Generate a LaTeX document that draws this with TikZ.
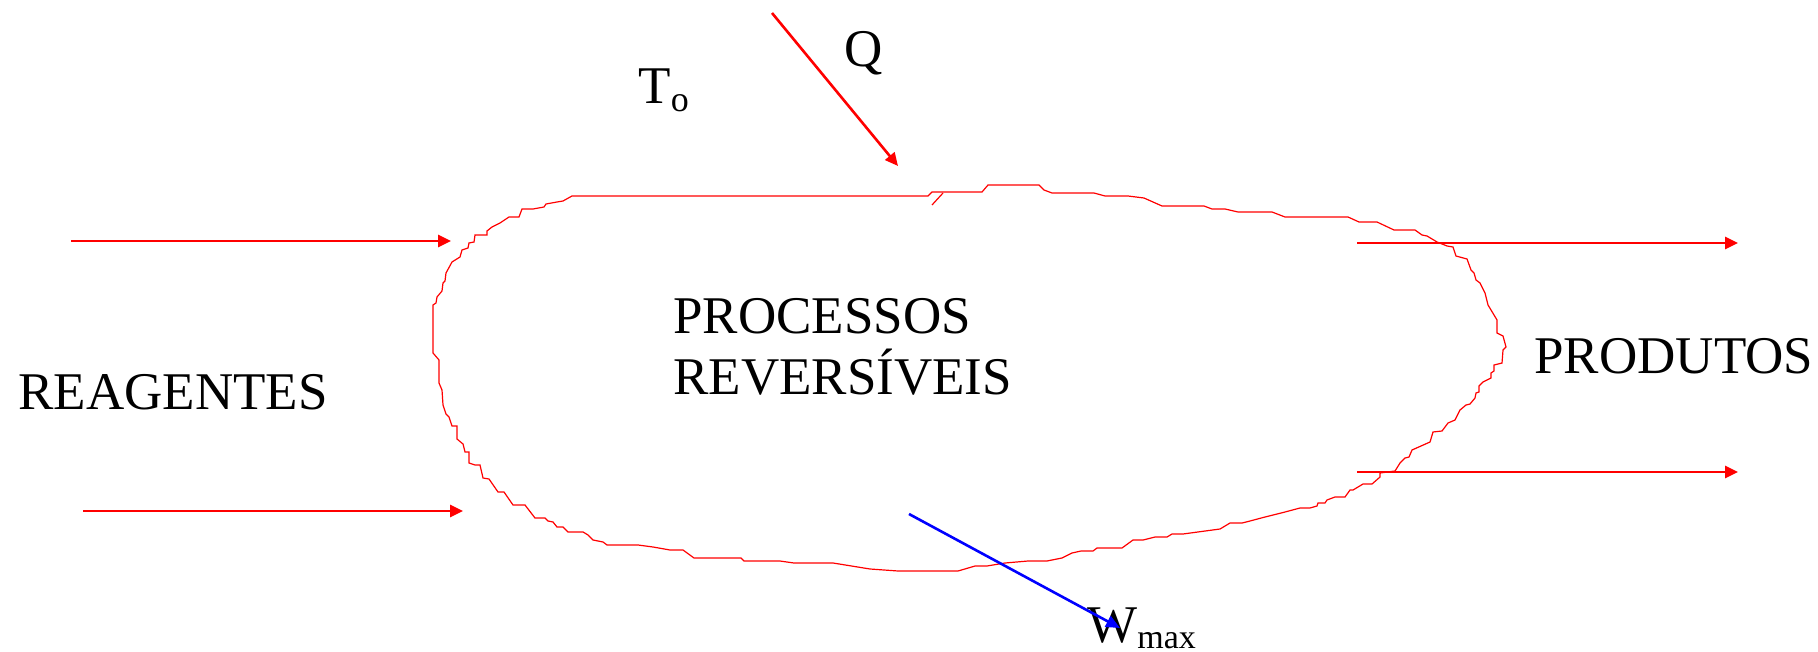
\documentclass[tikz,border=0pt]{standalone}
\usepackage{fontspec}
\setmainfont{Liberation Serif}
\usepackage{tikz}
\usetikzlibrary{arrows.meta, positioning}
\tikzstyle{txt} = [font=\fontsize{26.5}{32}\selectfont, inner sep=0pt, anchor=base west]
\tikzstyle{flow} = [red, line width=1.3pt, -{Triangle[length=6.5pt, width=6pt]}]
\tikzstyle{work} = [blue, line width=1.3pt, -{Triangle[length=7pt, width=6pt]}]
\tikzstyle{border} = [red, line width=0.6pt]

\begin{document}
\begin{tikzpicture}[x=0.5pt, y=-0.5pt]
            \useasboundingbox (0,0) rectangle (1818,652);

            % Nodes
            \node (reag) [txt] at (18,409) {REAGENTES};
            \node (proc) [txt] at (673,333) {PROCESSOS};
            \node (rev) [txt] at (673,394) {REVERSÍVEIS};
            \node (prod) [txt] at (1534,373) {PRODUTOS};
            \node (temp) [txt] at (638,104) {T\raisebox{-4pt}{\fontsize{18}{20}\selectfont o}};
            \node (heat) [txt] at (844,67) {Q};
            \node (wmax) [txt] at (1087,642) {W\raisebox{-3pt}{\fontsize{17}{20}\selectfont max}};

            % Arrow ends
            \coordinate (in1a) at (71,241);   \coordinate (in1b) at (451,241);
            \coordinate (in2a) at (83,511);   \coordinate (in2b) at (463,511);
            \coordinate (out1a) at (1357,243); \coordinate (out1b) at (1738,243);
            \coordinate (out2a) at (1357,472); \coordinate (out2b) at (1738,472);
            \coordinate (qa) at (772,13);     \coordinate (qb) at (898,166);
            \coordinate (wa) at (909,514);    \coordinate (wb) at (1120,628);

            % Process boundary
            \draw [border] (572,196) -- (928,196) -- (932,192) -- (982,192) -- (988,185) -- (1039,185)
              -- (1044,190) -- (1052,193) -- (1094,193) -- (1105,196) -- (1128,196) -- (1144,198)
              -- (1162,206) -- (1204,206) -- (1212,209) -- (1225,209) -- (1238,212) -- (1272,212)
              -- (1285,217) -- (1348,217) -- (1359,222) -- (1377,222) -- (1394,230) -- (1415,230)
              -- (1422,235) -- (1427,236) -- (1437,242) -- (1447,246) -- (1453,247) -- (1456,256)
              -- (1467,259) -- (1471,270) -- (1474,273) -- (1476,280) -- (1480,283) -- (1485,293)
              -- (1488,305) -- (1497,320) -- (1497,333) -- (1503,336) -- (1506,347) -- (1503,350)
              -- (1502,363) -- (1494,365) -- (1494,371) -- (1491,373) -- (1491,378) -- (1483,382)
              -- (1479,386) -- (1479,392) -- (1476,393) -- (1475,398) -- (1470,404) -- (1466,405)
              -- (1460,410) -- (1455,420) -- (1448,423) -- (1442,431) -- (1433,432) -- (1430,442)
              -- (1412,450) -- (1409,457) -- (1405,458) -- (1400,463) -- (1395,471) -- (1380,473)
              -- (1380,477) -- (1372,484) -- (1363,484) -- (1353,490) -- (1350,490) -- (1345,497)
              -- (1335,497) -- (1327,500) -- (1325,503) -- (1318,503) -- (1317,506) -- (1310,508)
              -- (1300,508) -- (1285,512) -- (1265,517) -- (1250,521) -- (1242,523) -- (1230,523)
              -- (1220,529) -- (1183,534) -- (1172,534) -- (1167,537) -- (1155,537) -- (1143,540)
              -- (1133,540) -- (1122,548) -- (1097,548) -- (1093,551) -- (1081,551) -- (1072,553)
              -- (1062,558) -- (1047,561) -- (1028,561) -- (1005,563) -- (987,566) -- (975,566)
              -- (958,571) -- (898,571) -- (870,569) -- (833,563) -- (794,563) -- (780,561)
              -- (744,561) -- (741,558) -- (694,558) -- (683,550) -- (670,550) -- (653,547)
              -- (638,545) -- (607,545) -- (603,542) -- (593,540) -- (588,535) -- (583,532)
              -- (568,532) -- (563,527) -- (557,527) -- (553,522) -- (548,521) -- (545,518)
              -- (535,518) -- (525,505) -- (513,505) -- (504,492) -- (498,492) -- (489,479)
              -- (483,478) -- (480,465) -- (475,465) -- (469,463) -- (469,452) -- (465,452)
              -- (463,444) -- (457,439) -- (457,426) -- (452,426) -- (449,417) -- (446,414)
              -- (443,405) -- (442,390) -- (439,383) -- (439,360) -- (433,353) -- (433,305)
              -- (436,303) -- (437,297) -- (442,291) -- (443,283) -- (445,281) -- (446,273)
              -- (452,262) -- (460,257) -- (462,250) -- (468,248) -- (469,243) -- (474,242)
              -- (475,235) -- (487,235) -- (487,231) -- (492,227) -- (500,223) -- (509,217)
              -- (519,217) -- (522,209) -- (533,209) -- (544,207) -- (546,204) -- (557,202)
              -- (563,201) -- cycle;
            \draw [border] (943,193) -- (932,205);

            % Edges
            \draw [flow] (in1a) -- (in1b);
            \draw [flow] (in2a) -- (in2b);
            \draw [flow] (out1a) -- (out1b);
            \draw [flow] (out2a) -- (out2b);
            \draw [flow] (qa) -- (qb);
            \draw [work] (wa) -- (wb);

        \end{tikzpicture}
\end{document}
